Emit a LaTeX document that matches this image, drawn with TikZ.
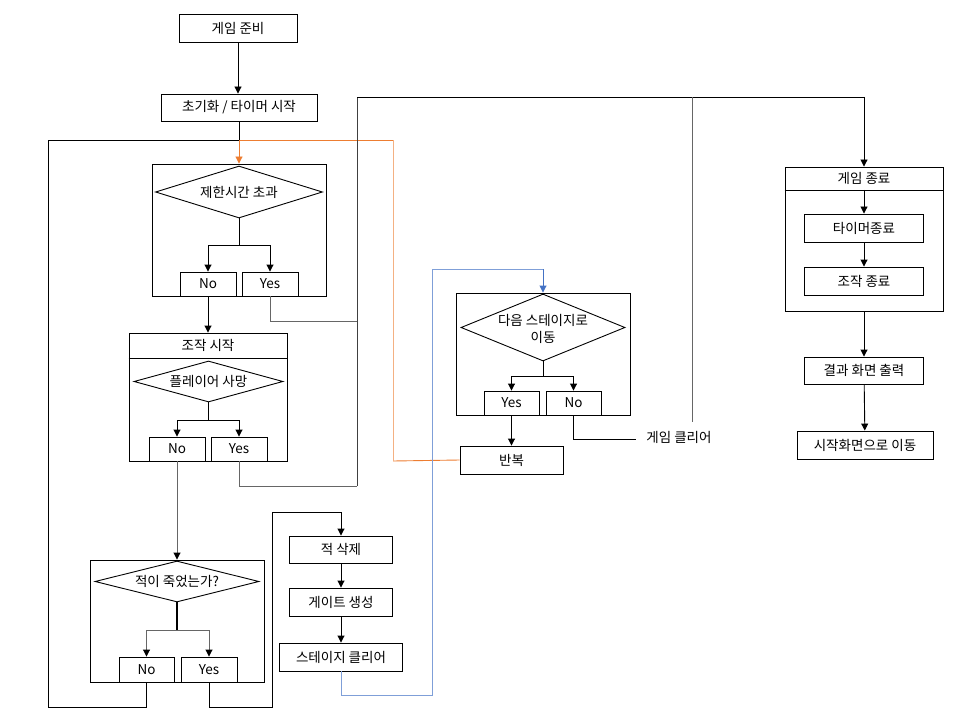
\documentclass[tikz,border=0pt]{standalone}
\usepackage{fontspec}
\setmainfont{Noto Sans CJK KR}
\usetikzlibrary{arrows.meta,shapes.geometric}
\definecolor{orng}{HTML}{ED7D31}
\definecolor{lorng}{HTML}{F4B183}
\definecolor{blu}{HTML}{4472C4}
\definecolor{lblu}{HTML}{7F9FD8}
\begin{document}
\begin{tikzpicture}[x=1pt,y=-1pt,line width=0.9pt,
  font=\fontsize{13.5}{17}\selectfont,
  box/.style 2 args={draw,rectangle,inner sep=0pt,minimum width=#1,minimum height=#2},
  dia/.style 2 args={draw,diamond,inner sep=0pt,minimum width=#1,minimum height=#2,aspect=2},
  lbl/.style={inner sep=0pt,align=center},
  arr/.style={-{Triangle[length=7pt,width=7pt]}},
  garr/.style={-{Triangle[length=7pt,width=7pt,color=black,fill=black]}},
  gline/.style={draw=black!60},
  dline/.style={draw=black!75}]
\useasboundingbox (0,0) rectangle (973,711);
% top chain
\node[box={118}{28}] (prep) at (238,28) {게임 준비};
\node[box={156}{27}] (init) at (239,107.5) {초기화 / 타이머 시작};
% timer group
\node[box={174}{132}] (g1) at (239,230) {};
\node[dia={167}{52}] (d1) at (239,192) {};
\node[lbl] (d1t) at (d1) {제한시간 초과};
\node[box={56}{24}] (n1) at (208,284) {No};
\node[box={56}{24}] (y1) at (270,284) {Yes};
% control group
\node[box={158}{128}] (g2) at (208,397) {};
\node (t2) at (208,345.5) {조작 시작};
\draw (g2.west |- 0,358) -- (g2.east |- 0,358);
\node[dia={149}{41}] (d2) at (208.5,381.5) {};
\node[lbl] (d2t) at (d2) {플레이어 사망};
\node[box={56}{24}] (n2) at (177,449) {No};
\node[box={56}{24}] (y2) at (239,449) {Yes};
% enemy group
\node[box={174}{122}] (g3) at (177,621) {};
\node[dia={164}{41}] (d3) at (177,581.5) {};
\node[lbl] (d3t) at (d3) {적이 죽었는가?};
\node[box={55}{25}] (n3) at (146.5,669.5) {No};
\node[box={56}{25}] (y3) at (209,669.5) {Yes};
% enemy chain
\node[box={103}{27}] (del) at (341,549.5) {적 삭제};
\node[box={103}{28}] (gate) at (341,602) {게이트 생성};
\node[box={123}{28}] (sclr) at (341,657) {스테이지 클리어};
% next stage group
\node[box={174}{122}] (g4) at (543,354) {};
\node[dia={164}{67}] (d4) at (543,327.5) {};
\node[lbl] (d4t) at (543,329) {다음 스테이지로\\이동};
\node[box={55}{24}] (y4) at (511.5,403) {Yes};
\node[box={55}{24}] (n4) at (573.5,403) {No};
\node[box={103}{28}] (rep) at (511.5,460) {반복};
\node[anchor=west,inner sep=0pt] (clr) at (646,437) {게임 클리어};
\coordinate (clrend) at (636,439);
% end group
\node[box={158}{144}] (g5) at (864,239) {};
\node (t5) at (864,178.5) {게임 종료};
\draw (g5.west |- 0,190) -- (g5.east |- 0,190);
\node[box={119}{28}] (tstop) at (864,228) {타이머종료};
\node[box={119}{28}] (cstop) at (864,281) {조작 종료};
\node[box={119}{27}] (result) at (864,370.5) {결과 화면 출력};
\node[box={136}{28}] (tostart) at (865,445) {시작화면으로 이동};
% connectors
\coordinate (jn) at (239,140);
\draw[arr] (prep.south) -- (prep.south |- init.north);
\draw (init.south) -- (jn);
\draw (n3.south) |- (48,707) |- (jn);
\draw[orng] (rep.west) -- (393,461);
\draw[lorng] (393,461) -- (393,140);
\draw[orng] (393,140) -- (jn);
\draw[orng,arr] (jn) -- (g1.north);
\draw (d1.south) -- (239,245);
\draw[arr] (239,245) -| (n1.north);
\draw[arr] (239,245) -| (y1.north);
\draw[arr] (n1.south) -- (n1.south |- g2.north);
\draw[gline] (y1.south) |- (357,321);
\draw[dline] (357,486) -- (357,97);
\draw (357,97) -- (864,97);
\draw[arr] (864,97) -- (g5.north);
\draw[gline] (692,97) -- (692,422);
\draw (d2.south) -- (208.5,420);
\draw[arr] (208.5,420) -| (n2.north);
\draw[arr] (208.5,420) -| (y2.north);
\draw[gline,garr] (n2.south) -- (g3.north);
\draw[gline] (y2.south) |- (357,486);
\draw[line width=1.5pt] (d3.south) -- (177,630);
\draw[gline,garr] (177,630) -| (n3.north);
\draw[gline,garr] (177,630) -| (y3.north);
\draw[arr] (y3.south) |- (272,707) -- (272,512) -| (del.north);
\draw[arr] (del) -- (gate);
\draw[arr] (gate) -- (sclr);
\draw[lblu] (sclr.south) |- (432,695) -- (432,269) -- (543,269);
\draw[blu,arr] (543,269) -- (g4.north);
\draw (d4.south) -- (543,376);
\draw[arr] (543,376) -| (y4.north);
\draw[arr] (543,376) -| (n4.north);
\draw[arr] (y4.south) -- (rep.north);
\draw (n4.south) |- (clrend);
\draw[arr] (864,190) -- (tstop.north);
\draw[arr] (tstop) -- (cstop);
\draw[arr] (g5.south) -- (result.north);
\draw[arr] (result) -- (tostart);
\end{tikzpicture}
\end{document}
